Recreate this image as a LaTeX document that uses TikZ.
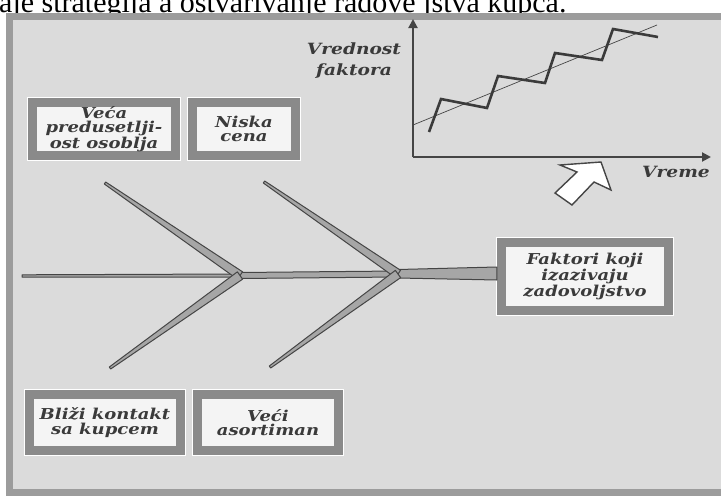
\documentclass[tikz,border=0pt]{standalone}
\usepackage{fontspec}
\setmainfont{Liberation Serif}
\newfontfamily\labfont[FakeStretch=1.2]{DejaVu Serif}
\usetikzlibrary{calc,arrows.meta}
\definecolor{bg}{HTML}{DBDBDB}
\definecolor{framegray}{HTML}{9C9C9C}
\definecolor{boxframe}{HTML}{8A8A8A}
\definecolor{boxin}{HTML}{F4F4F4}
\definecolor{txt}{HTML}{3A3A3A}
\definecolor{dk}{HTML}{454545}
\definecolor{bonefill}{HTML}{A6A6A6}
\tikzset{
  fbox/.style={draw=boxframe, line width=9.5, fill=boxin, inner sep=0, align=center,
    font=\labfont\bfseries\itshape\fontsize{15}{14.5}\selectfont, text=txt,
    preaction={draw=white, line width=11.5}},
  clabel/.style={inner sep=0, align=center, text=txt,
    font=\labfont\bfseries\itshape\fontsize{15.5}{21}\selectfont},
  axisline/.style={draw=dk, line width=2},
  bonestyle/.style={fill=bonefill, draw=dk, line width=1, line join=round},
  zig/.style={draw=dk!85!black, line width=2.6, line join=miter},
  trend/.style={draw=dk, line width=0.7},
  bigarrow/.style={fill=white, draw=dk, line width=1.4, line join=miter}
}
\begin{document}
\begin{tikzpicture}[x=1pt,y=-1pt]
\useasboundingbox (0,0) rectangle (721,498);
\clip (0,0) rectangle (721,498);
\fill[white] (0,0) rectangle (721,498);
% cropped caption line at top
\node[anchor=base west, inner sep=0, font=\fontsize{30}{30}\selectfont] (cap) at (-1,12) {aje strategija a ostvarivanje radove jstva kupca.};
% panel frame
\draw[framegray, line width=7, fill=bg] (9,16.5) rectangle (740,492);

% boxes
\node[fbox, minimum width=143, minimum height=53] (b1) at (104,129) {Veća\\predusetlji-\\ost osoblja};
\node[fbox, minimum width=103, minimum height=53] (b2) at (244,129) {Niska\\cena};
\node[fbox, minimum width=167, minimum height=68] (b3) at (585,276.5) {Faktori koji\\izazivaju\\zadovoljstvo};
\node[fbox, minimum width=151, minimum height=56] (b4) at (105,422.5) {Bliži kontakt\\sa kupcem};
\node[fbox, minimum width=141, minimum height=56] (b5) at (268,422.5) {Veći\\asortiman};

% fishbone coordinates
\coordinate (s0) at (22,276);
\coordinate (j1) at (240,275.5);
\coordinate (j2) at (398,274);
% spine
\draw[bonestyle] (s0 |- 0,274.8) -- (240,274) -- (240,277) -- (s0 |- 0,277.2) -- cycle;
\draw[bonestyle] (240,272.5) -- (398,271) -- (398,277) -- (240,278.5) -- cycle;
\draw[bonestyle] (398,269.5) -- (b3.west |- 0,267) -- (b3.west |- 0,280) -- (398,278) -- cycle;
% bones
\coordinate (ul) at (105,183);
\coordinate (ll) at (110,368);
\coordinate (ur) at (264,182);
\coordinate (lr) at (270,367);
\foreach \f/\j in {ul/j1, ll/j1, ur/j2, lr/j2}{
  \draw[bonestyle] ($(\f)!1.2pt!90:(\j)$) -- ($(\f)!1.2pt!-90:(\j)$)
    -- ($(\j)!4.5pt!90:(\f)$) -- ($(\j)!4.5pt!-90:(\f)$) -- cycle;
}

% chart
\coordinate (o) at (413,157);
\coordinate (ytip) at (413,19);
\coordinate (xtip) at (711,157);
\draw[axisline, -{Triangle[length=9,width=9]}] (o) -- (ytip);
\draw[axisline, -{Triangle[length=9,width=9]}] (o) -- (xtip);
\coordinate (t0) at (413,125);
\coordinate (t1) at (657,25);
\draw[trend] (t0) -- (t1);
\draw[zig] (429,132) -- (441,99) -- (487,108) -- (498,76) -- (545,83) -- (555,53) -- (602,60) -- (613,29) -- (658,37);
\node[clabel] (ylab) at (354,61) {Vrednost\\faktora};
\node[clabel, anchor=base east] (xlab) at (710,177) {Vreme};
% hollow arrow
\draw[bigarrow] (601,162) -- (611,190) -- (594,182) -- (572,205) -- (555,193) -- (577,172) -- (560,165) -- cycle;
\end{tikzpicture}
\end{document}
